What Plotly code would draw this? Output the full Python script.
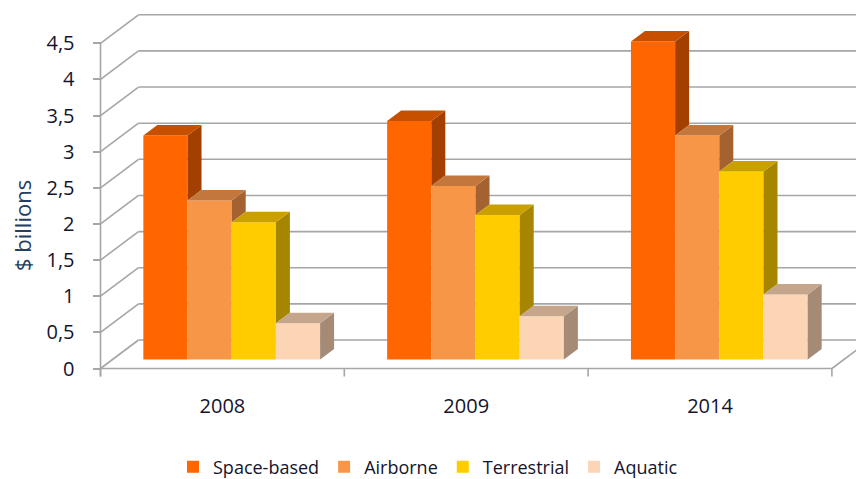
import plotly.graph_objects as go

# ---------------- data ----------------
categories = ["2008", "2009", "2014"]
series_names = ["Space-based", "Airborne", "Terrestrial", "Aquatic"]
space_based = [3.1, 3.3, 4.4]
airborne = [2.2, 2.4, 3.1]
terrestrial = [1.9, 2.0, 2.6]
aquatic = [0.5, 0.6, 0.9]
y_tick_values = [0, 0.5, 1, 1.5, 2, 2.5, 3, 3.5, 4, 4.5]
y_tick_labels = ["0", "0,5", "1", "1,5", "2", "2,5", "3", "3,5", "4", "4,5"]
y_title = "$ billions"

# ---------------- styles ----------------
front_colors = ["#FF6600", "#F79646", "#FFCC00", "#FCD5B5"]
top_colors = ["#C65000", "#C4773C", "#C9A000", "#C5A68C"]
side_colors = ["#A34000", "#A3622F", "#A68600", "#A58B76"]
grid_color = "#A6A6A6"
text_color = "#14142B"
title_color = "#243F60"
FONT = "Open Sans"

W, H = 856, 479
L, R, T, B = 90, 0, 5, 99
OX, OY = 100.5, 368.5      # pixel of the front-left-bottom corner
PX, PY = 243.8, 72.27      # pixels per category / per unit
plot_w = W - L - R

x_range = [-0.5 - (OX - L) / PX, -0.5 + (W - R - OX) / PX]
y_range = [-(H - B - OY) / PY, (OY - T) / PY]

DX, DY = 38 / PX, 28.5 / PY        # full depth of the 3D floor
F, BD = 0.316, 0.368               # bar front depth fraction, bar depth fraction
GW = 0.725                         # group width
BW = GW / 4
GC = -0.011
FX, FB = F * DX + GC, F * DY
bdx, bdy = BD * DX, BD * DY

series = [space_based, airborne, terrestrial, aquatic]
ncat = len(categories)
fig = go.Figure()

# front faces: real bars
for j, (name, vals) in enumerate(zip(series_names, series)):
    fig.add_trace(go.Bar(
        x=[g + FX for g in range(ncat)], y=vals, base=FB,
        offset=-GW / 2 + j * BW, width=BW, name=name,
        marker=dict(color=front_colors[j], line=dict(width=0)),
        hoverinfo="skip",
    ))

# side and top faces (3D effect), computed from the values
for g in range(ncat):
    for j in range(len(series)):
        v = series[j][g]
        xl = g + FX - GW / 2 + j * BW
        xr = xl + BW
        yt = FB + v
        yn = FB + series[j + 1][g] if j + 1 < len(series) else FB
        if yn < yt:
            fig.add_trace(go.Scatter(
                x=[xr, xr, xr + bdx, xr + bdx, xr], y=[yn, yt, yt + bdy, yn + bdy, yn],
                mode="lines", fill="toself", fillcolor=side_colors[j],
                line=dict(width=0, color=side_colors[j]), showlegend=False, hoverinfo="skip"))
        fig.add_trace(go.Scatter(
            x=[xl, xr, xr + bdx, xl + bdx, xl], y=[yt, yt, yt + bdy, yt + bdy, yt],
            mode="lines", fill="toself", fillcolor=top_colors[j],
            line=dict(width=0, color=top_colors[j]), showlegend=False, hoverinfo="skip"))

# walls, floor, gridlines
shapes = []
def seg(x0, y0, x1, y1, w=1.6):
    shapes.append(dict(type="line", xref="x", yref="y", x0=x0, y0=y0, x1=x1, y1=y1,
                       line=dict(color=grid_color, width=w), layer="below"))

x_left, x_right = -0.5, ncat - 0.5
for v in y_tick_values:
    seg(x_left, v, x_left + DX, v + DY)                     # left wall
    seg(x_left + DX, v + DY, x_right + DX, v + DY)          # back wall
seg(x_left, 0, x_right, 0)                                   # front floor edge
seg(x_right, 0, x_right + DX, DY)                            # right floor edge
seg(x_left, -8 / PY, x_left, y_tick_values[-1])             # front value axis
for k in range(ncat + 1):
    seg(x_left + k, 0, x_left + k, -8 / PY)                  # category ticks

fig.update_layout(
    width=W, height=H, autosize=False,
    margin=dict(l=L, r=R, t=T, b=B),
    plot_bgcolor="white", paper_bgcolor="white",
    separators=", ",
    barmode="overlay",
    shapes=shapes,
    font=dict(family=FONT, color=text_color),
    xaxis=dict(range=x_range, showgrid=False, zeroline=False, showline=False,
               tickvals=list(range(ncat)), ticktext=categories, ticks="",
               tickfont=dict(size=20, color=text_color), ticklabelstandoff=12,
               fixedrange=True),
    yaxis=dict(range=y_range, showgrid=False, zeroline=False, showline=False,
               anchor="free", position=(OX - L) / plot_w,
               tickvals=y_tick_values, ticktext=y_tick_labels,
               ticks="outside", ticklen=8, tickcolor=grid_color, tickwidth=1.6,
               tickfont=dict(size=20, color=text_color), ticklabelstandoff=14,
               fixedrange=True),
    annotations=[dict(text=y_title, textangle=-90, xref="paper", yref="y",
                      x=0, xshift=22 - L, y=(OY - 226) / PY, xanchor="center", yanchor="middle",
                      showarrow=False, font=dict(size=22, color=title_color))],
    legend=dict(orientation="h", xref="container", yref="container",
                x=0.5, xanchor="center", y=1 - 467 / H, yanchor="middle",
                font=dict(size=18, color=text_color), traceorder="normal"),
    showlegend=True,
)

fig.write_html("out.html")
